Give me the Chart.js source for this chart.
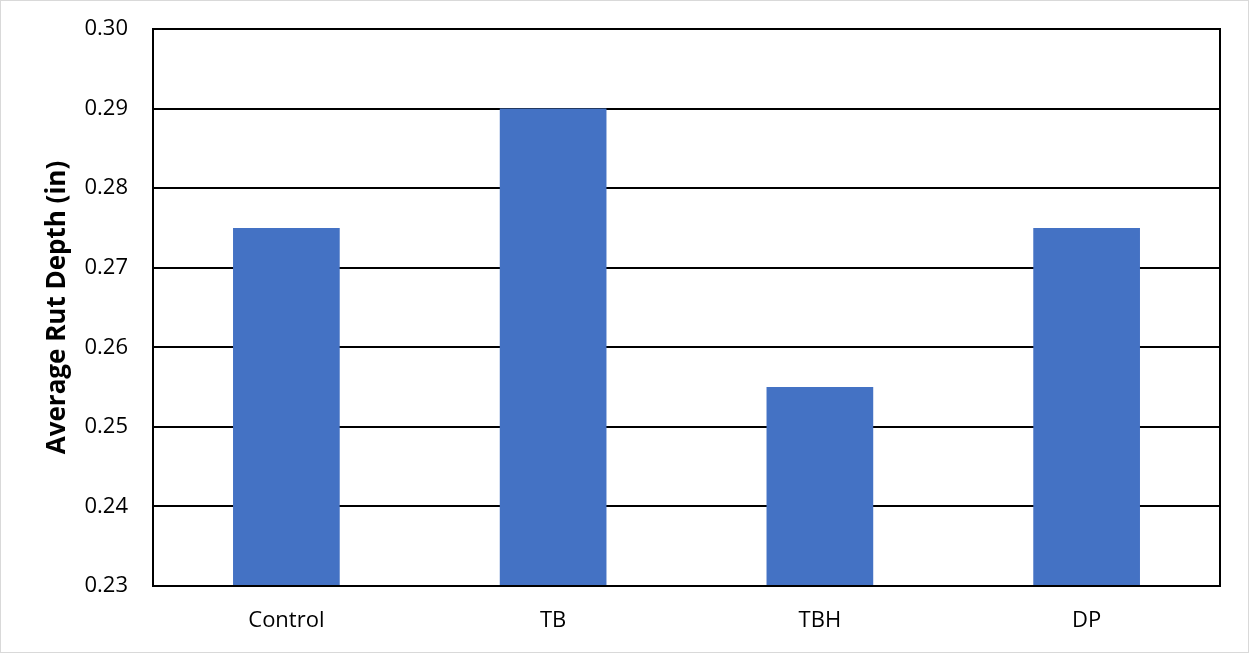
<!DOCTYPE html>
<html>
<head>
<meta charset="utf-8">
<script src="https://cdn.jsdelivr.net/npm/chart.js@4/dist/chart.umd.min.js"></script>
<style>
  html, body { margin: 0; padding: 0; background: #fff; }
  #wrap {
    width: 1249px;
    height: 653px;
    box-sizing: border-box;
    border: 1px solid #d9d9d9;
    position: relative;
  }
</style>
</head>
<body>
<div id="wrap"><canvas id="rut-chart"></canvas></div>
<script>
// Rut depth by mix type
const categories = ["Control", "TB", "TBH", "DP"];
const rutDepth = [0.275, 0.29, 0.255, 0.275];
const yTicks = [0.23, 0.24, 0.25, 0.26, 0.27, 0.28, 0.29, 0.30];

const barColor = "#4472C4";
const fontFamily = "'Open Sans', 'DejaVu Sans', sans-serif";

// box around the plot area, like the Excel default
const plotFrame = {
  id: "plotFrame",
  afterDraw(chart) {
    const { ctx, chartArea } = chart;
    ctx.save();
    ctx.strokeStyle = "#000000";
    ctx.lineWidth = 2;
    ctx.strokeRect(
      chartArea.left,
      chartArea.top,
      chartArea.right - chartArea.left,
      chartArea.bottom - chartArea.top
    );
    ctx.restore();
  },
};

const ctx = document.getElementById("rut-chart");

new Chart(ctx, {
  type: "bar",
  data: {
    labels: categories,
    datasets: [
      {
        data: rutDepth,
        backgroundColor: barColor,
        borderWidth: 0,
        barPercentage: 0.4,
        categoryPercentage: 1.0,
      },
    ],
  },
  options: {
    responsive: true,
    maintainAspectRatio: false,
    animation: false,
    layout: {
      padding: { top: 28, right: 28, bottom: 0, left: 0 },
    },
    plugins: {
      legend: { display: false },
      tooltip: { enabled: false },
    },
    scales: {
      x: {
        grid: { display: false, drawTicks: false },
        border: { display: false },
        ticks: {
          color: "#000000",
          padding: 22,
          font: { family: fontFamily, size: 22 },
        },
        afterFit: function (scale) {
          scale.height = 66;
        },
      },
      y: {
        min: yTicks[0],
        max: yTicks[yTicks.length - 1],
        afterBuildTicks: function (scale) {
          scale.ticks = yTicks.map((v) => ({ value: v }));
        },
        grid: {
          color: "#000000",
          lineWidth: 2,
          drawTicks: false,
        },
        border: { display: false },
        ticks: {
          color: "#000000",
          padding: 25,
          font: { family: fontFamily, size: 22 },
          callback: function (value) {
            return Number(value).toFixed(2);
          },
        },
        title: {
          display: true,
          text: "Average Rut Depth (in)",
          color: "#000000",
          padding: { top: 41, bottom: 0 },
          font: { family: fontFamily, size: 26, weight: "bold" },
        },
        afterFit: function (scale) {
          scale.width = 152;
          scale.paddingTop = 0;
          scale.paddingBottom = 0;
        },
      },
    },
  },
  plugins: [plotFrame],
});
</script>
</body>
</html>
